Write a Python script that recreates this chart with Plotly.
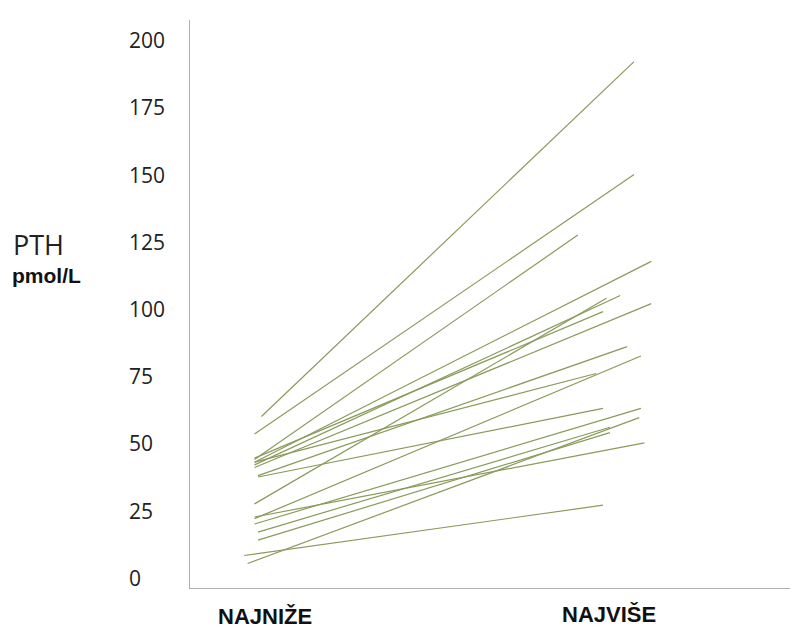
import plotly.graph_objects as go

# PTH values (pmol/L) per patient: lowest and highest measurement
pth_low  = [60, 53.5, 44, 43, 42, 27.5, 44.5, 41, 38, 22, 43, 37.5, 20, 5.3, 14, 17, 22.6, 8.3]
pth_high = [192, 150, 127.5, 117.7, 105, 104, 99, 102, 86, 82.5, 76, 63, 63, 59.6, 54, 56, 50.2, 27]
# horizontal placement of each line's ends (hand-drawn original)
x_low  = [-0.01, -0.03, -0.03, -0.03, -0.03, -0.03, -0.03, -0.03, -0.02, -0.03, -0.03, -0.02, -0.03, -0.05, -0.02, -0.02, -0.03, -0.06]
x_high = [1.07, 1.07, 0.907, 1.12, 1.03, 0.99, 0.98, 1.12, 1.05, 1.09, 0.96, 0.98, 1.09, 1.085, 1.0, 1.0, 1.10, 0.98]

categories = ["NAJNIŽE", "NAJVIŠE"]
category_x = [0, 0.997]
category_y = [-0.051, -0.046]
y_ticks = [0, 25, 50, 75, 100, 125, 150, 175, 200]

fig = go.Figure()
for lo, hi, xl, xh in zip(pth_low, pth_high, x_low, x_high):
    fig.add_trace(go.Scatter(x=[xl, xh], y=[lo, hi], mode="lines",
                             line=dict(color="#8a9a5b", width=1.2),
                             showlegend=False, hoverinfo="skip"))

annotations = []
for t in y_ticks:
    annotations.append(dict(x=-0.105, xref="paper", y=t, yref="y", text=str(t),
                            showarrow=False, xanchor="left", yanchor="middle",
                            font=dict(family="Open Sans", size=21, color="#222")))
for c, cx, cy in zip(categories, category_x, category_y):
    annotations.append(dict(x=cx, xref="x", y=cy, yref="paper", text="<b>%s</b>" % c,
                            showarrow=False, xanchor="center", yanchor="middle",
                            font=dict(family="Liberation Sans", size=22, color="#111")))
annotations.append(dict(x=-0.298, xref="paper", y=0.605, yref="paper", text="PTH",
                        showarrow=False, xanchor="left", yanchor="middle",
                        font=dict(family="Open Sans", size=27, color="#222")))
annotations.append(dict(x=-0.3, xref="paper", y=0.55, yref="paper", text="<b>pmol/L</b>",
                        showarrow=False, xanchor="left", yanchor="middle",
                        font=dict(family="Liberation Sans", size=21, color="#111")))

fig.update_layout(
    width=791, height=620,
    margin=dict(l=182, r=9, t=12, b=40),
    paper_bgcolor="white", plot_bgcolor="white",
    xaxis=dict(range=[-0.217, 1.522], showgrid=False, zeroline=False,
               showticklabels=False, showline=True, linecolor="#b0b0b0", linewidth=1.2,
               fixedrange=True),
    yaxis=dict(range=[-3.8, 207.5], showgrid=False, zeroline=False,
               showticklabels=False, showline=True, linecolor="#b0b0b0", linewidth=1.2,
               fixedrange=True),
    annotations=annotations,
)
fig.write_html("out.html")
